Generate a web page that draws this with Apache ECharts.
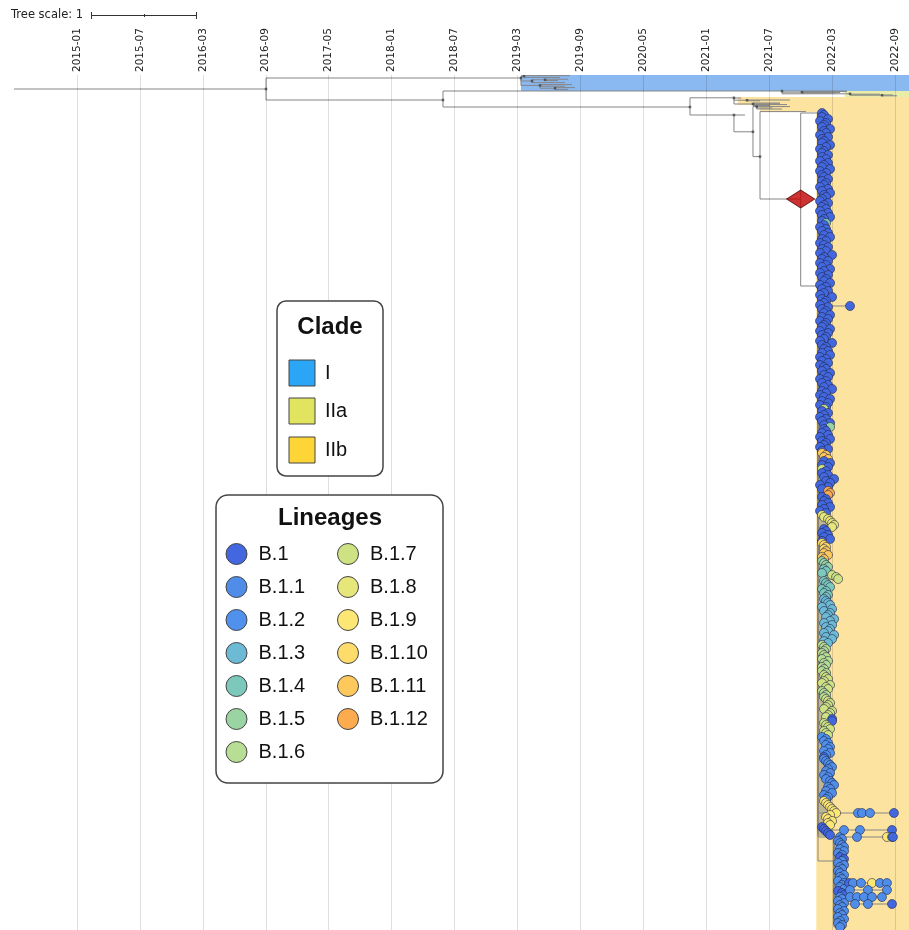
<!DOCTYPE html>
<html>
<head>
<meta charset="utf-8">
<script src="https://cdn.jsdelivr.net/npm/echarts@6/dist/echarts.min.js"></script>
<style>
html,body{margin:0;padding:0;background:#fff;}
#tree{width:909px;height:930px;}
</style>
</head>
<body>
<div id="tree"></div>
<script>
// x is in tick units (one unit per date tick), row is the leaf order from the top
var tickLabels = ['2015-01','2015-07','2016-03','2016-09','2017-05','2018-01','2018-07',
	'2019-03','2019-09','2020-05','2021-01','2021-07','2022-03','2022-09'];

var cladeNames = ['I','IIa','IIb'];
var cladeColors = ['#2ba6f6','#e1e45e','#fdd536'];
var bandFill = ['rgba(80,150,235,0.67)','rgba(220,225,110,0.6)','rgba(252,215,120,0.7)'];

var lineageNames = ['B.1','B.1.1','B.1.2','B.1.3','B.1.4','B.1.5','B.1.6',
	'B.1.7','B.1.8','B.1.9','B.1.10','B.1.11','B.1.12'];
var lineageColors = ['#4267df','#4f8de9','#5091ee','#6dbad5','#7cc8bb','#9ad4a2','#b8dd94',
	'#cfe283','#e6e67b','#fde774','#fedc6c','#fdc95d','#fdab4f'];

// [name, parent, x, row]
var treeNodes = [
	['R0', null, -1.0, 7],
	['R', 'R0', 3.004, 7],
	['I0', 'R', 7.055, 1.5],
	['I1', 'I0', 7.103, 0.6],
	['i1', 'I1', 7.834, 0.3],
	['i2', 'I1', 7.675, 1.2],
	['I2', 'I0', 7.230, 3.0],
	['I3', 'I2', 7.437, 2.4],
	['i3', 'I3', 7.802, 2.1],
	['i4', 'I3', 7.643, 2.8],
	['i5', 'I2', 7.754, 3.8],
	['I4', 'I0', 7.357, 5.2],
	['i6', 'I4', 7.866, 4.8],
	['i7', 'I4', 7.754, 5.6],
	['I5', 'I4', 7.596, 6.6],
	['i8', 'I5', 7.913, 6.3],
	['i9', 'I5', 7.802, 7.2],
	['II', 'R', 5.816, 12.5],
	['A0', 'II', 11.202, 8],
	['a1', 'A0', 12.235, 8.0],
	['A1', 'A0', 11.520, 8.6],
	['a2', 'A1', 12.235, 8.3],
	['a3', 'A1', 12.124, 8.8],
	['a4', 'A1', 12.044, 9.0],
	['A2', 'A0', 12.283, 9.4],
	['a5', 'A2', 12.759, 9.6],
	['A3', 'A2', 12.791, 10.1],
	['a6', 'A3', 13.029, 10.4],
	['a7', 'A3', 12.965, 10.0],
	['B0', 'II', 9.740, 16],
	['B1', 'B0', 10.439, 11.4],
	['b1', 'B1', 10.551, 11.5],
	['B1a', 'B1', 10.646, 12.6],
	['b2', 'B1a', 11.329, 12.5],
	['b3', 'B1a', 10.853, 12.9],
	['B1b', 'B1', 10.741, 14.5],
	['b4', 'B1b', 11.170, 14.0],
	['b5', 'B1b', 11.282, 14.8],
	['b6', 'B1b', 11.011, 15.2],
	['b7', 'B1b', 11.170, 14.4],
	['B2', 'B0', 10.439, 20],
	['b8', 'B2', 10.614, 20],
	['B3', 'B2', 10.741, 28.4],
	['B4', 'B3', 10.800, 15.8],
	['b9', 'B4', 11.329, 15.8],
	['b10', 'B4', 11.050, 16.5],
	['b11', 'B4', 11.200, 17.0],
	['C', 'B3', 10.853, 40.8],
	['c1', 'C', 11.583, 18.3],
	['D', 'C', 11.499, 62],
	['G1', 'D', 11.774, 19],
	['G2', 'D', 11.774, 105.5],
	['G3', 'G2', 12.028, 393]
];
var diamondNode = 'D';

// clade shading: [x start, row from, row to, clade]
var cladeBands = [
	[7.055, 0, 8, 0],
	[12.2, 8, 11, 1],
	[10.50, 11, 15, 2],
	[10.85, 15, 18.5, 2],
	[11.747, 18.5, 427.5, 2]
];

// tips of the big clade: [spine node, first row, lineage, x offsets (one char per tip, base 36)]
var tipStep = 0.032;
var tipSegments = [
	['G1', 19, 0, '2325143263415232641325241532614235243152634215324152632'],
	['G1', 74, 4, '4'],
	['G1', 75, 0, '314253624135241732514263152436'],
	['G2', 105, 0, '14253172431524362514326152431724352614251342635142537241362514'],
	['G2', 167, 7, '3'],
	['G2', 168, 0, '25314263'],
	['G2', 176, 5, '6'],
	['G2', 177, 0, '342516243152'],
	['G2', 189, 11, '2435'],
	['G2', 193, 0, '3625'],
	['G2', 197, 7, '2'],
	['G2', 198, 0, '4253846152'],
	['G2', 208, 12, '565'],
	['G2', 211, 0, '243526314'],
	['G2', 220, 8, '2356787'],
	['G2', 227, 0, '3425362'],
	['G2', 234, 10, '2343'],
	['G2', 238, 11, '43523'],
	['G2', 243, 5, '2345'],
	['G2', 247, 4, '342'],
	['G2', 250, 7, '79a'],
	['G2', 253, 4, '345624354'],
	['G2', 262, 3, '34562736548637465384735'],
	['G2', 285, 6, '234323425342324'],
	['G2', 300, 7, '34532645'],
	['G2', 308, 6, '2343'],
	['G2', 312, 7, '4565437654'],
	['G2', 322, 0, '77'],
	['G2', 324, 7, '3456345'],
	['G2', 331, 2, '2435465364'],
	['G2', 341, 0, '3'],
	['G2', 342, 1, '345675463546785647354'],
	['G2', 363, 9, '3456789645756'],
	['G2', 376, 0, '23456'],
	['G3', 381, 1, '3423453524'],
	['G3', 391, 0, '35'],
	['G3', 393, 1, '425342353425435'],
	['G3', 408, 0, '245'],
	['G3', 411, 1, '3425342534253243']
];

// longer tip branches: [parent, row, tip x values, tip lineages]
var longBranches = [
	['G2', 115.5, [12.283], [0]],
	['G2', 369, [12.410, 12.473, 12.600, 12.981], [1, 1, 1, 0]],
	['G2', 377.5, [12.187, 12.441, 12.950], [1, 1, 0]],
	['G2', 381, [12.394, 12.870, 12.950, 12.965], [1, 9, 3, 0]],
	['G3', 404, [12.267, 12.330, 12.457, 12.632, 12.759, 12.870], [0, 1, 1, 9, 1, 1]],
	['G3', 407.5, [12.283, 12.568, 12.870], [1, 1, 1]],
	['G3', 411, [12.283, 12.394, 12.505, 12.632, 12.791], [1, 1, 1, 1, 1]],
	['G3', 414.5, [12.362, 12.568, 12.950], [1, 1, 0]]
];

var xMin = -1, xMax = 13.22, rowMax = 427.5;

function $each(a, f){ for(var i=0;i<a.length;i++){ f(a[i], i); } }

// build the tree
var nodeMap = {};
var isParent = {};
$each(treeNodes, function(n){ nodeMap[n[0]] = n; if(n[1]){ isParent[n[1]] = true; } });

var branchData = [];
var nodeDots = [];
var tipDots = [];
$each(treeNodes, function(n){
	if(n[1]){
		var p = nodeMap[n[1]];
		branchData.push([p[2], p[3], n[2], n[3]]);
	}
	if(isParent[n[0]] && n[0] != 'R0' && n[0] != diamondNode){
		nodeDots.push([n[2], n[3]]);
	}
});
$each(tipSegments, function(s){
	var sp = nodeMap[s[0]];
	for(var i=0;i<s[3].length;i++){
		var x = sp[2] + parseInt(s[3].charAt(i), 36) * tipStep;
		branchData.push([sp[2], sp[3], x, s[1] + i]);
		tipDots.push([x, s[1] + i, s[2]]);
	}
});
$each(longBranches, function(b){
	var p = nodeMap[b[0]];
	branchData.push([p[2], p[3], Math.max.apply(null, b[2]), b[1]]);
	$each(b[2], function(x, i){ tipDots.push([x, b[1], b[3][i]]); });
});
var dNode = nodeMap[diamondNode];

function renderBranch(params, api){
	var a = api.coord([api.value(0), api.value(1)]);
	var b = api.coord([api.value(0), api.value(3)]);
	var c = api.coord([api.value(2), api.value(3)]);
	return {
		type: 'polyline',
		shape: { points: [a, b, c] },
		style: { stroke: '#858585', lineWidth: 1, fill: 'none' }
	};
}
function renderBand(params, api){
	var p0 = api.coord([api.value(0), api.value(1)]);
	var p1 = api.coord([xMax, api.value(2)]);
	return {
		type: 'rect',
		shape: { x: p0[0], y: p0[1], width: p1[0] - p0[0], height: p1[1] - p0[1] },
		style: { fill: bandFill[api.value(3)] }
	};
}

// legends
var legendFont = 'Liberation Sans, Arial, sans-serif';
var graphics = [
	{ type: 'text', left: 11, top: 9, style: { text: 'Tree scale: 1', fontSize: 11.5, fontFamily: 'DejaVu Sans', fill: '#222' } },
	{ type: 'line', shape: { x1: 91, y1: 15.5, x2: 197, y2: 15.5 }, style: { stroke: '#333', lineWidth: 1 } },
	{ type: 'line', shape: { x1: 91.5, y1: 12, x2: 91.5, y2: 19 }, style: { stroke: '#333', lineWidth: 1 } },
	{ type: 'line', shape: { x1: 196.5, y1: 12, x2: 196.5, y2: 19 }, style: { stroke: '#333', lineWidth: 1 } },
	{ type: 'line', shape: { x1: 144.5, y1: 14, x2: 144.5, y2: 17 }, style: { stroke: '#333', lineWidth: 1 } },
	{ type: 'rect', shape: { x: 277, y: 301, width: 106, height: 175, r: 9 }, style: { fill: '#fff', stroke: '#444', lineWidth: 1.5 }, z: 100 },
	{ type: 'text', x: 330, y: 327, style: { text: 'Clade', fontSize: 24, fontWeight: 'bold', fontFamily: legendFont, fill: '#111', align: 'center', verticalAlign: 'middle' }, z: 101 },
	{ type: 'rect', shape: { x: 216, y: 495, width: 227, height: 288, r: 12 }, style: { fill: '#fff', stroke: '#444', lineWidth: 1.5 }, z: 100 },
	{ type: 'text', x: 330, y: 518, style: { text: 'Lineages', fontSize: 24, fontWeight: 'bold', fontFamily: legendFont, fill: '#111', align: 'center', verticalAlign: 'middle' }, z: 101 }
];
var cladeY = [373, 411, 450];
$each(cladeNames, function(c, i){
	graphics.push({ type: 'rect', shape: { x: 289, y: cladeY[i] - 13, width: 26, height: 26 }, style: { fill: cladeColors[i], stroke: '#444', lineWidth: 1 }, z: 101 });
	graphics.push({ type: 'text', x: 325, y: cladeY[i], style: { text: c, fontSize: 20, fontFamily: legendFont, fill: '#111', verticalAlign: 'middle' }, z: 101 });
});
$each(lineageNames, function(l, i){
	var col = i < 7 ? 0 : 1;
	var r = col ? i - 7 : i;
	var cy = 554 + r * 33;
	var cx = col ? 348 : 236.5;
	graphics.push({ type: 'circle', shape: { cx: cx, cy: cy, r: 10.5 }, style: { fill: lineageColors[i], stroke: '#444', lineWidth: 1 }, z: 101 });
	graphics.push({ type: 'text', x: cx + 22, y: cy, style: { text: l, fontSize: 20, fontFamily: legendFont, fill: '#111', verticalAlign: 'middle' }, z: 101 });
});

var gridLines = [];
$each(tickLabels, function(t, i){ gridLines.push({ xAxis: i }); });

var option = {
	animation: false,
	backgroundColor: '#fff',
	grid: { left: 14, right: 0, top: 75, bottom: 0, outerBoundsMode: 'none' },
	xAxis: {
		type: 'value', position: 'top', min: xMin, max: xMax, interval: 1,
		axisLine: { show: false }, axisTick: { show: false }, splitLine: { show: false },
		axisLabel: {
			rotate: 90, margin: 3, fontSize: 10.5, fontFamily: 'DejaVu Sans', color: '#222',
			showMaxLabel: false,
			formatter: function(v){
				var i = Math.round(v);
				if(Math.abs(v - i) > 1e-6) return '';
				return tickLabels[i] || '';
			}
		}
	},
	yAxis: { type: 'value', inverse: true, min: 0, max: rowMax, show: false },
	graphic: graphics,
	series: [
		{ type: 'custom', z: 1, renderItem: renderBand, data: cladeBands, silent: true, clip: true },
		{
			type: 'custom', z: 3, renderItem: renderBranch, data: branchData, silent: true, clip: true,
			markLine: {
				silent: true, symbol: 'none', label: { show: false },
				lineStyle: { color: 'rgba(0,0,0,0.13)', width: 1, type: 'solid' },
				data: gridLines
			}
		},
		{ type: 'scatter', z: 4, symbol: 'rect', symbolSize: 2.5, data: nodeDots, itemStyle: { color: '#444' }, silent: true },
		{
			type: 'scatter', z: 5, symbolSize: 9, data: tipDots, progressive: 0, silent: true,
			itemStyle: {
				color: function(p){ return lineageColors[p.value[2]]; },
				borderColor: 'rgba(35,40,70,0.85)', borderWidth: 0.7, opacity: 1
			}
		},
		{
			type: 'scatter', z: 6, symbol: 'diamond', symbolSize: [28, 18], data: [[dNode[2], dNode[3]]], silent: true,
			itemStyle: { color: '#c00000', borderColor: '#4a0000', borderWidth: 1 }
		}
	]
};

var myChart = echarts.init(document.getElementById('tree'));
myChart.setOption(option);
</script>
</body>
</html>
